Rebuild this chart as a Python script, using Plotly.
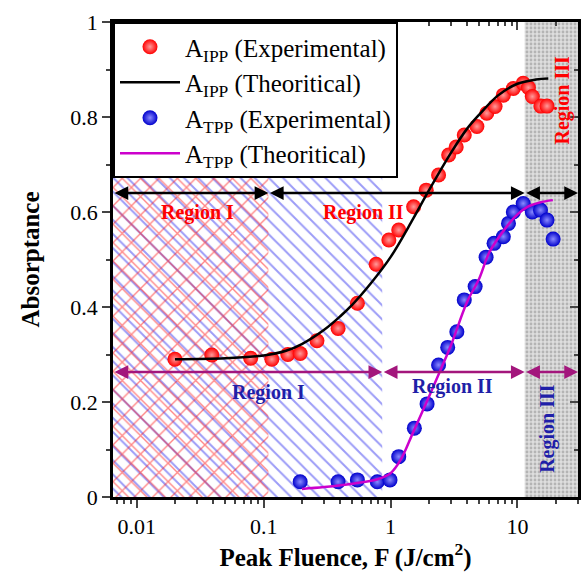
import numpy as np
import plotly.graph_objects as go

# ---- data ----
ipp_exp_x = [0.020, 0.039, 0.079, 0.116, 0.155, 0.194, 0.263, 0.386, 0.548, 0.77, 0.97, 1.16, 1.52,
             1.91, 2.39, 2.87, 3.29, 3.81, 4.79, 5.73, 6.66, 7.74, 9.28, 11.1, 12.2, 13.1, 15.3, 17.1]
ipp_exp_y = [0.290, 0.299, 0.292, 0.290, 0.300, 0.302, 0.329, 0.355, 0.408, 0.490, 0.541, 0.562, 0.611,
             0.646, 0.678, 0.720, 0.737, 0.762, 0.780, 0.808, 0.822, 0.846, 0.860, 0.871, 0.862, 0.843, 0.823, 0.823]

ipp_th_x = [0.02, 0.05, 0.1, 0.15, 0.2, 0.3, 0.4, 0.5, 0.7, 1.0, 1.5, 2.0, 3.0, 4.0, 5.0, 7.0, 10.0, 14.0, 17.5]
ipp_th_y = [0.290, 0.292, 0.298, 0.308, 0.322, 0.352, 0.380, 0.405, 0.450, 0.505, 0.585, 0.645, 0.725, 0.775,
            0.805, 0.845, 0.870, 0.879, 0.881]

tpp_exp_x = [0.194, 0.386, 0.548, 0.786, 0.99, 1.16, 1.54, 1.94, 2.39, 2.82, 3.33, 3.81, 4.64, 5.66, 6.54,
             7.74, 8.5, 9.28, 11.1, 13.1, 15.2, 17.1, 19.1]
tpp_exp_y = [0.032, 0.032, 0.036, 0.032, 0.036, 0.085, 0.145, 0.196, 0.278, 0.315, 0.348, 0.415, 0.443, 0.505,
             0.534, 0.548, 0.576, 0.600, 0.618, 0.600, 0.604, 0.583, 0.543]

tpp_th_x = [0.2, 0.3, 0.5, 0.8, 1.0, 1.2, 1.5, 2.0, 2.5, 3.0, 4.0, 5.0, 6.0, 8.0, 10.0, 12.0, 15.0, 19.0]
tpp_th_y = [0.017, 0.021, 0.028, 0.038, 0.050, 0.078, 0.135, 0.210, 0.270, 0.320, 0.410, 0.460, 0.515, 0.565,
            0.595, 0.611, 0.620, 0.625]

x_ticks = [0.01, 0.1, 1, 10]
x_tick_labels = ["0.01", "0.1", "1", "10"]
y_ticks = [0, 0.2, 0.4, 0.6, 0.8, 1.0]
y_tick_labels = ["0", "0.2", "0.4", "0.6", "0.8", "1"]

# region boundaries (fluence, J/cm^2) and axis limits
x_min, x_max = 0.0065, 30.0
ipp_b1 = 0.109     # IPP region I / II
tpp_b1 = 0.86      # TPP region I / II
b_iii = 11.4       # region III start (both)
hatch_top = 0.686
ipp_arrow_y = 0.64
tpp_arrow_y = 0.263

FONT = "Liberation Serif"
RED = "#ff0000"
BLUE = "#0000cc"
MAG = "#cc00cc"
PURP = "#a3167c"

fig = go.Figure()

def rect(x0, x1, y0, y1):
    return [x0, x1, x1, x0, x0], [y0, y0, y1, y1, y0]

# grey region III
rx, ry = rect(b_iii, x_max, 0, 1)
fig.add_trace(go.Scatter(x=rx, y=ry, mode="lines", fill="toself", line=dict(width=0),
                         fillcolor="#d6d6d6",
                         fillpattern=dict(shape=".", fgcolor="#8a8a8a", bgcolor="#dedede", size=4, solidity=0.4),
                         showlegend=False, hoverinfo="skip"))
# blue hatched TPP region I
rx, ry = rect(x_min, tpp_b1, 0, hatch_top)
fig.add_trace(go.Scatter(x=rx, y=ry, mode="lines", fill="toself", line=dict(width=0),
                         fillcolor="rgba(0,0,0,0)",
                         fillpattern=dict(shape="\\", fgcolor="#3a3af0", bgcolor="rgba(0,0,0,0)", size=10, solidity=0.2),
                         showlegend=False, hoverinfo="skip"))
# red cross-hatched IPP region I
rx, ry = rect(x_min, ipp_b1, 0, hatch_top)
fig.add_trace(go.Scatter(x=rx, y=ry, mode="lines", fill="toself", line=dict(width=0),
                         fillcolor="rgba(0,0,0,0)",
                         fillpattern=dict(shape="x", fgcolor="#ff1010", bgcolor="rgba(0,0,0,0)", size=13, solidity=0.2),
                         showlegend=False, hoverinfo="skip"))

# curves and points
fig.add_trace(go.Scatter(x=ipp_exp_x, y=ipp_exp_y, mode="markers",
                         name="A<sub>IPP</sub> (Experimental)",
                         marker=dict(size=15, color=RED, gradient=dict(type="radial", color="#ff9a9a"),
                                     line=dict(width=0))))
fig.add_trace(go.Scatter(x=ipp_th_x, y=ipp_th_y, mode="lines", line=dict(color="black", width=2.5, shape="spline"),
                         name="A<sub>IPP</sub> (Theoritical)"))
fig.add_trace(go.Scatter(x=tpp_exp_x, y=tpp_exp_y, mode="markers",
                         name="A<sub>TPP</sub> (Experimental)",
                         marker=dict(size=15, color=BLUE, gradient=dict(type="radial", color="#8a8aff"),
                                     line=dict(width=0))))
fig.add_trace(go.Scatter(x=tpp_th_x, y=tpp_th_y, mode="lines", line=dict(color=MAG, width=2.5, shape="spline"),
                         name="A<sub>TPP</sub> (Theoritical)"))

# invisible trace for the mirrored top/right axes
fig.add_trace(go.Scatter(x=[1], y=[0.5], xaxis="x2", yaxis="y2", mode="markers",
                         marker=dict(opacity=0), showlegend=False, hoverinfo="skip"))

L = np.log10
annotations = []

def arrow(x0, x1, y, color):
    annotations.append(dict(x=L(x1), y=y, ax=L(x0), ay=y, xref="x", yref="y", axref="x", ayref="y",
                            text="", showarrow=True, arrowhead=2, startarrowhead=2, arrowside="end+start",
                            arrowsize=1.1, startarrowsize=1.1, arrowwidth=2.5, arrowcolor=color))

arrow(x_min, ipp_b1, ipp_arrow_y, "black")
arrow(ipp_b1, b_iii, ipp_arrow_y, "black")
arrow(b_iii, x_max, ipp_arrow_y, "black")
arrow(x_min, tpp_b1, tpp_arrow_y, PURP)
arrow(tpp_b1, b_iii, tpp_arrow_y, PURP)
arrow(b_iii, x_max, tpp_arrow_y, PURP)

def label(x, y, text, color, angle=0):
    annotations.append(dict(x=L(x), y=y, xref="x", yref="y", text=f"<b>{text}</b>", showarrow=False,
                            textangle=angle, font=dict(family=FONT, size=20, color=color)))

label(0.030, 0.600, "Region I", RED)
label(0.61, 0.600, "Region II", RED)
label(22.7, 0.836, "Region III", RED, -90)
label(0.11, 0.219, "Region I", "#1f1fa8")
label(3.1, 0.232, "Region II", "#1f1fa8")
label(17.0, 0.145, "Region III", "#1f1fa8", -90)

tickfont = dict(family=FONT, size=22, color="black")
fig.update_layout(
    width=583, height=577,
    margin=dict(l=113, r=5, t=22, b=80),
    paper_bgcolor="white", plot_bgcolor="white",
    font=dict(family=FONT, color="black"),
    annotations=annotations,
    showlegend=True,
    legend=dict(x=0, y=1, xanchor="left", yanchor="top", bgcolor="white", bordercolor="black", borderwidth=2,
                font=dict(family=FONT, size=25, color="black"), tracegroupgap=0, itemwidth=60),
    xaxis=dict(type="log", range=[L(x_min), L(x_max)], tickvals=x_ticks, ticktext=x_tick_labels,
               ticks="outside", ticklen=8, tickwidth=2, showline=True, linewidth=2.5, linecolor="black",
               showgrid=False, zeroline=False, tickfont=tickfont,
               minor=dict(ticks="outside", ticklen=4, tickwidth=2, dtick="D1", showgrid=False),
               title=dict(text="<b>Peak Fluence, F (J/cm<sup>2</sup>)</b>", font=dict(family=FONT, size=25),
                          standoff=8),
               tickprefix="<b>", ticksuffix="</b>"),
    yaxis=dict(range=[0, 1], tickvals=y_ticks, ticktext=y_tick_labels,
               ticks="outside", ticklen=8, tickwidth=2, showline=True, linewidth=2.5, linecolor="black",
               showgrid=False, zeroline=False, tickfont=tickfont,
               minor=dict(ticks="outside", ticklen=4, tickwidth=2, dtick=0.1, showgrid=False),
               title=dict(text="<b>Absorptance</b>", font=dict(family=FONT, size=25), standoff=24),
               tickprefix="<b>", ticksuffix="</b>"),
    xaxis2=dict(type="log", range=[L(x_min), L(x_max)], overlaying="x", side="top", tickvals=x_ticks,
                ticks="inside", ticklen=8, tickwidth=2, showticklabels=False, showline=True, linewidth=2.5,
                linecolor="black", showgrid=False, zeroline=False,
                minor=dict(ticks="inside", ticklen=4, tickwidth=2, dtick="D1", showgrid=False)),
    yaxis2=dict(range=[0, 1], overlaying="y", side="right", tickvals=y_ticks, ticks="inside", ticklen=8,
                tickwidth=2, showticklabels=False, showline=True, linewidth=2.5, linecolor="black",
                showgrid=False, zeroline=False,
                minor=dict(ticks="inside", ticklen=4, tickwidth=2, dtick=0.1, showgrid=False)),
)

fig.write_html("out.html", config={"displayModeBar": False},
               post_script="document.body.style.margin='0';document.body.style.overflow='hidden';")
